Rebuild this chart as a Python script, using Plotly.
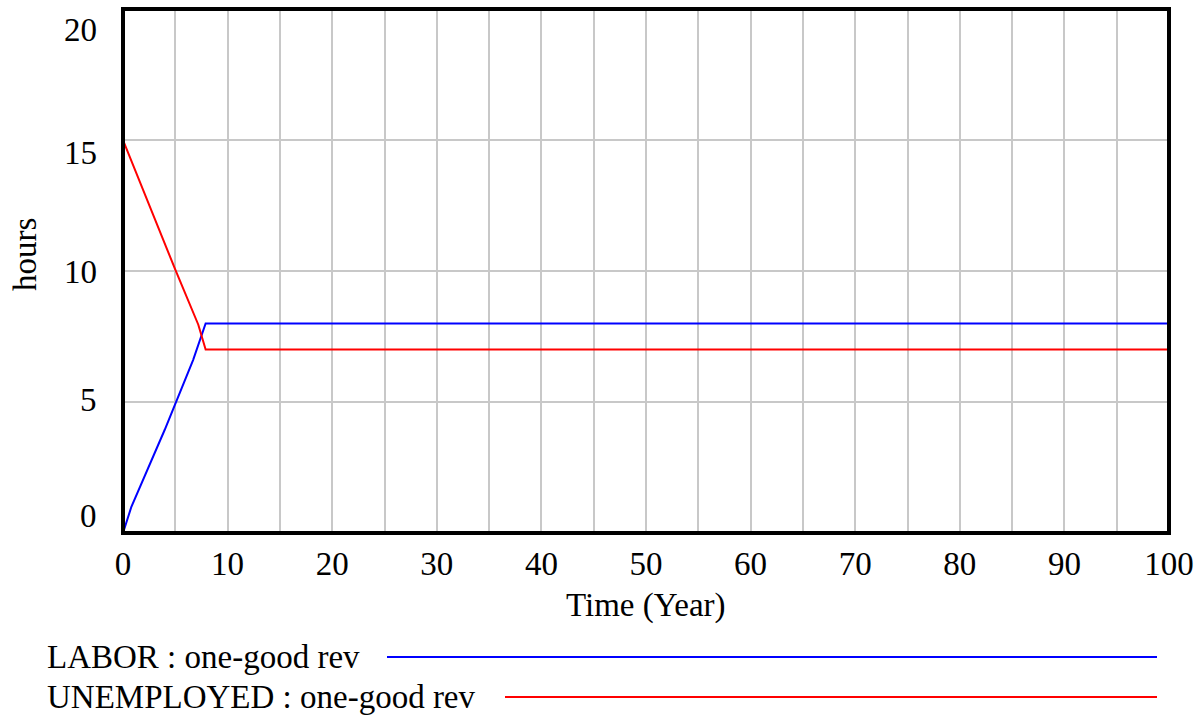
import plotly.graph_objects as go

# ---- data ----
time_labor = [0, 0.8, 4.0, 5.0, 6.7, 7.9, 100]
labor = [0, 1.0, 3.95, 4.95, 6.6, 8.0, 8.0]
time_unemp = [0, 0.8, 3.8, 5.0, 7.2, 7.9, 100]
unemployed = [15, 14.2, 11.2, 10.05, 7.95, 7.0, 7.0]

x_ticks = [0, 10, 20, 30, 40, 50, 60, 70, 80, 90, 100]
y_ticks = [0, 5, 10, 15, 20]
y_tick_shift = [17, 2, -1, -13, -21]   # Vensim-style label placement

series_names = ["LABOR : one-good rev", "UNEMPLOYED : one-good rev"]
series_colors = ["#0000ff", "#ff0000"]

FONT = "Liberation Serif"
FS = 33

W, H = 1202, 717
L, R, T, B = 123, 33, 9, 184
pw, ph = W - L - R, H - T - B

fig = go.Figure()
fig.add_trace(go.Scatter(x=time_labor, y=labor, mode="lines",
                         line=dict(color=series_colors[0], width=2),
                         name=series_names[0], showlegend=False))
fig.add_trace(go.Scatter(x=time_unemp, y=unemployed, mode="lines",
                         line=dict(color=series_colors[1], width=2),
                         name=series_names[1], showlegend=False))

fig.update_xaxes(range=[0, 100], showgrid=True, gridcolor="#c8c8c8",
                 gridwidth=2, tickvals=x_ticks, ticktext=[str(v) for v in x_ticks],
                 showline=False, zeroline=False, ticks="", ticklabelstandoff=8,
                 tickfont=dict(family=FONT, size=FS, color="black"),
                 minor=dict(dtick=5, showgrid=True, gridcolor="#c8c8c8", gridwidth=2))
fig.update_yaxes(range=[0, 20], showgrid=True, gridcolor="#c8c8c8", gridwidth=2,
                 tickvals=y_ticks, showticklabels=False,
                 showline=False, zeroline=False, ticks="")

annotations = []
for v, s in zip(y_ticks, y_tick_shift):
    annotations.append(dict(x=0, xref="paper", xanchor="right", xshift=-24,
                            y=v, yref="y", yanchor="middle", yshift=s,
                            text=str(v), showarrow=False,
                            font=dict(family=FONT, size=FS, color="black")))
annotations.append(dict(x=0.5, xref="paper", y=(H - B - 605) / ph, yref="paper",
                        yanchor="middle", text="Time (Year)", showarrow=False,
                        font=dict(family=FONT, size=FS, color="black")))
annotations.append(dict(x=(25 - L) / pw, xref="paper", xanchor="center",
                        y=(H - B - 255) / ph, yref="paper", yanchor="middle",
                        textangle=-90, text="hours", showarrow=False,
                        font=dict(family=FONT, size=FS, color="black")))

# legend rows
legend_y = [657, 697]
legend_line_x0 = [387, 505]
shapes = [dict(type="rect", xref="paper", yref="paper", x0=0, x1=1, y0=0, y1=1,
               line=dict(color="black", width=4), layer="above")]
for name, col, ly, lx0 in zip(series_names, series_colors, legend_y, legend_line_x0):
    yp = (H - B - ly) / ph
    annotations.append(dict(x=(45 - L) / pw, xref="paper", xanchor="left",
                            y=yp, yref="paper", yanchor="middle", text=name,
                            showarrow=False,
                            font=dict(family=FONT, size=FS, color="black")))
    shapes.append(dict(type="line", xref="paper", yref="paper",
                       x0=(lx0 - L) / pw, x1=(1157 - L) / pw, y0=yp, y1=yp,
                       line=dict(color=col, width=2)))

fig.update_layout(width=W, height=H, margin=dict(l=L, r=R, t=T, b=B),
                  paper_bgcolor="white", plot_bgcolor="white",
                  annotations=annotations, shapes=shapes,
                  font=dict(family=FONT, size=FS, color="black"))

fig.write_html("out.html", config={"displayModeBar": False},
               post_script="document.body.style.margin='0';document.body.style.overflow='hidden';")
